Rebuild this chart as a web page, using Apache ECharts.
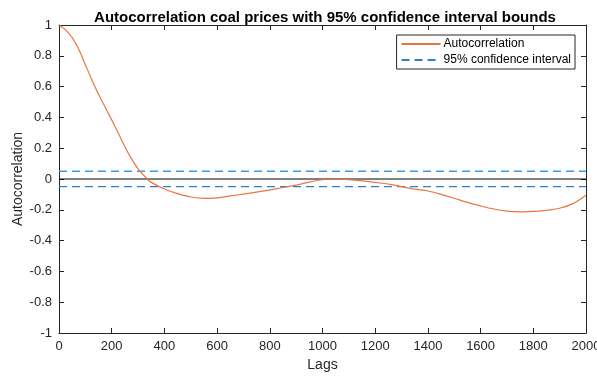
<!DOCTYPE html>
<html><head><meta charset="utf-8">
<script src="https://cdn.jsdelivr.net/npm/echarts@6/dist/echarts.min.js"></script>
<style>html,body{margin:0;padding:0;background:#fff}#c{width:597px;height:376px}</style>
</head><body><div id="c"></div>
<script>
const lags = [0,25,50,75,100,125,150,175,200,225,250,275,300,335,350,400,450,500,550,600,650,700,750,800,850,900,950,1000,1050,1100,1150,1200,1250,1300,1350,1400,1450,1500,1550,1600,1650,1700,1750,1800,1850,1900,1950,2000];
const acf = [1.0,0.968,0.918,0.842,0.742,0.643,0.55,0.467,0.384,0.298,0.21,0.132,0.066,0,-0.022,-0.065,-0.095,-0.117,-0.126,-0.122,-0.11,-0.098,-0.085,-0.071,-0.055,-0.04,-0.02,-0.005,0.0,-0.004,-0.012,-0.022,-0.033,-0.05,-0.066,-0.078,-0.1,-0.125,-0.152,-0.175,-0.195,-0.208,-0.213,-0.21,-0.204,-0.19,-0.16,-0.105];
const ciBound = 0.05;
const xRange = [0, 2000];
const xTicks = [0,200,400,600,800,1000,1200,1400,1600,1800,2000];
const yTicks = [-1,-0.8,-0.6,-0.4,-0.2,0,0.2,0.4,0.6,0.8,1];

const font = 'Liberation Sans, Arial, sans-serif';
const axisCol = '#262626';
const chart = echarts.init(document.getElementById('c'));
const baseX = {type:'value', min:xRange[0], max:xRange[1], interval:200,
  axisLine:{show:true,onZero:false,lineStyle:{color:axisCol,width:1}},
  axisTick:{show:true,inside:true,length:5,lineStyle:{color:axisCol}},
  splitLine:{show:false}};
const baseY = {type:'value', min:-1, max:1, interval:0.2,
  axisLine:{show:true,onZero:false,lineStyle:{color:axisCol,width:1}},
  axisTick:{show:true,inside:true,length:5,lineStyle:{color:axisCol}},
  splitLine:{show:false}};
chart.setOption({
  animation:false,
  title:{text:'Autocorrelation coal prices with 95% confidence interval bounds', left:320, top:5, textAlign:'center',
    textStyle:{fontFamily:font,fontSize:15,fontWeight:'bold',color:'#000'}},
  grid:{left:59,right:11,top:25,bottom:43,containLabel:false,outerBoundsMode:'none'},
  legend:{data:['Autocorrelation','95% confidence interval'], orient:'vertical', right:22, top:35,
    itemWidth:39, itemHeight:8, itemGap:4, padding:[3,4,3,4],
    itemStyle:{opacity:0},
    borderColor:axisCol, borderWidth:1, backgroundColor:'#fff',
    textStyle:{fontFamily:font,fontSize:12,color:'#000',padding:[0,0,0,-2]}},
  xAxis:[Object.assign({}, baseX, {position:'bottom', name:'Lags', nameLocation:'middle', nameGap:25, nameMoveOverlap:false,
      nameTextStyle:{fontFamily:font,fontSize:14,color:axisCol},
      axisLabel:{fontFamily:font,fontSize:13,color:axisCol,margin:7,
        formatter:v=>xTicks.indexOf(v)>=0?String(v):''}}),
    Object.assign({}, baseX, {position:'top', axisLabel:{show:false}})],
  yAxis:[Object.assign({}, baseY, {position:'left', name:'Autocorrelation', nameLocation:'middle', nameGap:34, nameMoveOverlap:false,
      nameTextStyle:{fontFamily:font,fontSize:14,color:axisCol},
      axisLabel:{fontFamily:font,fontSize:13,color:axisCol,margin:7,
        formatter:v=>{const r=Math.round(v*10)/10; return yTicks.indexOf(r)>=0?String(r):'';}}}),
    Object.assign({}, baseY, {position:'right', axisLabel:{show:false}})],
  series:[
    {name:'zero', type:'line', data:[[xRange[0],0],[xRange[1],0]], symbol:'none', silent:true,
      lineStyle:{color:'#000',width:1}},
    {name:'95% confidence interval', type:'line', data:[[xRange[0],-ciBound],[xRange[1],-ciBound]], symbol:'none',
      itemStyle:{color:'#2f7fc4'}, lineStyle:{color:'#2f7fc4',width:1.3,type:[8,5]}},
    {name:'upper bound', type:'line', data:[[xRange[0],ciBound],[xRange[1],ciBound]], symbol:'none',
      itemStyle:{color:'#3f9be0'}, lineStyle:{color:'#3f9be0',width:1.4,type:[8,5]}},
    {name:'Autocorrelation', type:'line', data:lags.map((l,i)=>[l,acf[i]]), symbol:'none', smooth:0.3,
      itemStyle:{color:'#ec7440'}, lineStyle:{color:'#ec7440',width:1.2}}
  ]
});
</script></body></html>
